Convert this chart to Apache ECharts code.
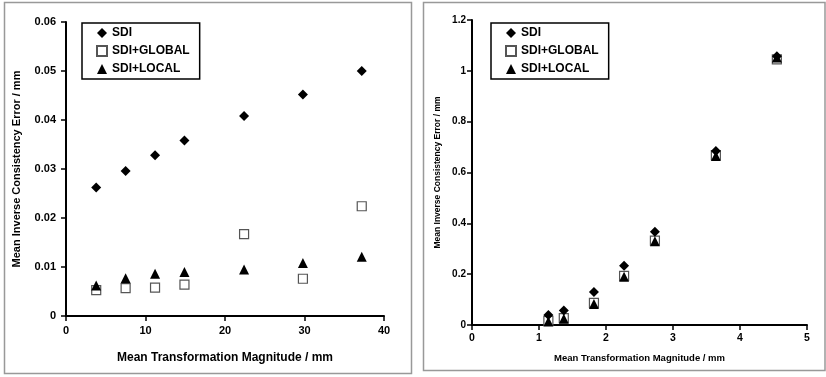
<!DOCTYPE html>
<html><head><meta charset="utf-8">
<script src="https://cdn.jsdelivr.net/npm/echarts@6/dist/echarts.min.js"></script>
<style>html,body{margin:0;padding:0;background:#fff}#c{width:826px;height:377px}</style>
</head><body><div id="c"></div>
<script>
// Left panel data
const leftX = [3.8, 7.5, 11.2, 14.9, 22.4, 29.8, 37.2];
const leftSDI = [0.0262, 0.0296, 0.0328, 0.0358, 0.0408, 0.0452, 0.0500];
const leftGlobal = [0.0053, 0.0057, 0.0058, 0.0064, 0.0167, 0.0076, 0.0224];
const leftLocal = [0.0062, 0.0077, 0.0086, 0.0090, 0.0095, 0.0108, 0.0121];
// Right panel data
const rightX = [1.14, 1.37, 1.82, 2.27, 2.73, 3.64, 4.55];
const rightSDI = [0.039, 0.057, 0.130, 0.233, 0.367, 0.685, 1.057];
const rightGlobal = [0.016, 0.027, 0.087, 0.193, 0.332, 0.668, 1.045];
const rightLocal = [0.014, 0.025, 0.083, 0.190, 0.330, 0.665, 1.052];
const seriesNames = ['SDI', 'SDI+GLOBAL', 'SDI+LOCAL'];
const xName = 'Mean Transformation Magnitude / mm';
const yName = 'Mean Inverse Consistency Error / mm';

const FONT = '"Liberation Sans", Arial, sans-serif';
const chart = echarts.init(document.getElementById('c'), null, {renderer: 'canvas'});

function pairs(xs, ys) { return xs.map((x, i) => [x, ys[i]]); }

function axisCommon(fs, margin) {
  return {
    axisLine: {show: true, lineStyle: {color: '#000', width: 2}},
    axisTick: {show: true, length: 5, lineStyle: {color: '#000', width: 1.5}},
    splitLine: {show: false},
    axisLabel: {color: '#000', fontFamily: FONT, fontWeight: 'bold', fontSize: fs, margin: margin}
  };
}

function mkSeries(gi, xs, sdi, glob, loc) {
  return [
    {name: seriesNames[0], type: 'scatter', xAxisIndex: gi, yAxisIndex: gi, symbol: 'diamond', symbolSize: 10,
     itemStyle: {color: '#000', opacity: 1}, data: pairs(xs, sdi), z: 3},
    {name: seriesNames[1], type: 'scatter', xAxisIndex: gi, yAxisIndex: gi, symbol: 'rect', symbolSize: 9,
     itemStyle: {color: '#fff', borderColor: '#555', borderWidth: 1.2, opacity: 1}, data: pairs(xs, glob), z: 2},
    {name: seriesNames[2], type: 'scatter', xAxisIndex: gi, yAxisIndex: gi, symbol: 'triangle', symbolSize: 10,
     itemStyle: {color: '#000', opacity: 1}, data: pairs(xs, loc), z: 4}
  ];
}

function legendCfg(left) {
  return {
    left: left, top: 23, orient: 'vertical',
    data: seriesNames.map(n => ({name: n})),
    borderColor: '#000', borderWidth: 1.5, borderRadius: 0,
    padding: [4, 10, 4, 14], itemGap: 6, itemWidth: 10, itemHeight: 10,
    textStyle: {color: '#000', fontFamily: FONT, fontWeight: 'bold', fontSize: 12},
    selectedMode: false
  };
}

const option = {
  animation: false,
  backgroundColor: '#fff',
  graphic: [
    {type: 'rect', shape: {x: 4.5, y: 2.5, width: 407, height: 371}, style: {fill: 'none', stroke: '#999', lineWidth: 1.5}, silent: true},
    {type: 'rect', shape: {x: 423.5, y: 2.5, width: 401.5, height: 368}, style: {fill: 'none', stroke: '#999', lineWidth: 1.5}, silent: true}
  ],
  legend: [legendCfg(82), legendCfg(491)],
  grid: [
    {left: 66, top: 22, right: 442, bottom: 61},
    {left: 472, top: 20, right: 19, bottom: 52}
  ],
  xAxis: [
    Object.assign(axisCommon(11, 9), {gridIndex: 0, type: 'value', min: 0, max: 40, interval: 10,
      name: xName, nameLocation: 'middle', nameGap: 36,
      nameTextStyle: {color: '#000', fontFamily: FONT, fontWeight: 'bold', fontSize: 12}}),
    Object.assign(axisCommon(10.5, 8), {gridIndex: 1, type: 'value', min: 0, max: 5, interval: 1,
      name: xName, nameLocation: 'middle', nameGap: 28,
      nameTextStyle: {color: '#000', fontFamily: FONT, fontWeight: 'bold', fontSize: 9.5}})
  ],
  yAxis: [
    Object.assign(axisCommon(11, 10), {gridIndex: 0, type: 'value', min: 0, max: 0.06, interval: 0.01,
      name: yName, nameLocation: 'middle', nameGap: 44,
      nameTextStyle: {color: '#000', fontFamily: FONT, fontWeight: 'bold', fontSize: 11}}),
    Object.assign(axisCommon(10, 6), {gridIndex: 1, type: 'value', min: 0, max: 1.2, interval: 0.2,
      name: yName, nameLocation: 'middle', nameGap: 30,
      nameTextStyle: {color: '#000', fontFamily: FONT, fontWeight: 'bold', fontSize: 8.5}})
  ],
  series: [].concat(
    mkSeries(0, leftX, leftSDI, leftGlobal, leftLocal),
    mkSeries(1, rightX, rightSDI, rightGlobal, rightLocal)
  )
};
chart.setOption(option);
</script>
</body></html>
